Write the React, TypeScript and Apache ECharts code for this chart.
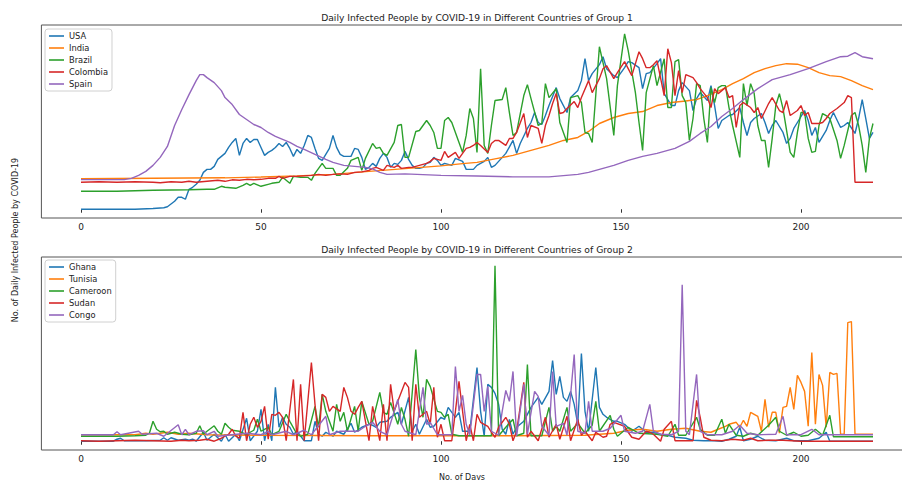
import React, { useEffect, useRef } from "react";
import * as echarts from "echarts";

type Pt = [number, number];

// Group 1 (normalized daily infections, 0 = lowest, 176 = highest)
const usa: Pt[] = [[0,0],[15,0],[20,0.7],[23,1.5],[24,2.5],[26,8],[27,12],[28,12],[29,10],[30,20],[31,22],[32,25],[33,29],[34,37],[35,40],[36,40],[37,43],[38,50],[39,53],[40,56],[41,62],[42,67],[43,71],[44,54],[45,66],[46,71],[47,67],[48,70],[49,70],[50,62],[51,54],[52,57],[53,59],[54,62],[55,66],[56,63],[57,67],[58,61],[59,53],[60,60],[61,56],[62,64],[63,74],[64,72],[65,61],[66,51],[67,49],[68,55],[69,61],[70,74],[71,62],[72,55],[73,53],[74,53],[75,53],[76,61],[77,60],[78,52],[79,40],[80,42],[81,46],[82,43],[83,51],[84,56],[85,52],[86,42],[87,46],[88,45],[89,49],[90,58],[91,50],[92,44],[93,41],[94,41],[95,42],[96,46],[97,47],[98,52],[99,49],[100,44],[101,46],[103,44],[104,51],[106,48],[107,40],[109,40],[110,44],[112,48],[113,52],[114,42],[115,44],[117,52],[118,56],[120,69],[121,56],[122,66],[124,81],[125,87],[126,97],[127,87],[128,85],[129,94],[130,104],[132,122],[133,111],[135,97],[136,112],[138,119],[139,129],[140,151],[141,129],[142,136],[144,145],[145,153],[146,141],[148,134],[149,132],[151,142],[152,148],[153,147],[155,142],[156,121],[157,136],[158,137],[160,146],[161,151],[162,116],[164,104],[165,104],[166,119],[167,127],[169,119],[170,99],[171,111],[172,117],[174,109],[175,124],[176,104],[177,81],[178,89],[180,94],[181,95],[183,102],[184,87],[185,74],[186,87],[187,91],[189,96],[190,87],[191,76],[192,84],[193,89],[195,77],[196,66],[197,71],[198,81],[199,87],[201,99],[202,89],[203,74],[204,82],[205,67],[207,79],[208,89],[209,97],[211,82],[212,84],[213,87],[215,76],[216,91],[217,110],[218,91],[219,71],[220,77]];
const india: Pt[] = [[0,30.5],[20,31],[40,31.5],[50,32.3],[60,33.5],[70,35],[80,38],[90,40.7],[100,43.5],[106,45.7],[110,47],[115,50.5],[120,54],[125,59],[130,64],[134,69],[138,72],[141,78],[144,86],[148,92],[152,96],[156,98],[160,104],[164,107],[168,108.5],[171,110],[174,114],[178,120],[181,126],[184,131],[187,137],[190,141],[193,144],[196,146],[199,145.5],[202,142],[205,137],[208,134],[211,133],[214,129],[217,124],[220,120]];
const brazil: Pt[] = [[0,18],[10,18],[20,19],[30,19.5],[35,20],[37,20],[39,23],[40,22],[43,21],[45,24],[46,26],[47,24],[48,26],[50,23],[52,25],[53,26],[55,27],[56,32],[58,26],[59,33],[61,32],[63,32],[64,29],[65,36],[67,46],[68,41],[70,41],[71,34],[72,34],[74,41],[75,49],[77,52],[78,39],[79,51],[81,66],[82,61],[83,62],[84,56],[85,54],[87,67],[88,84],[89,85],[90,52],[91,52],[93,78],[94,79],[95,84],[96,89],[97,84],[98,77],[99,61],[100,61],[101,89],[102,92],[103,87],[105,67],[106,57],[107,74],[108,101],[109,91],[110,57],[111,141],[112,64],[113,56],[114,84],[115,109],[117,110],[118,122],[119,97],[120,74],[121,77],[123,114],[124,125],[125,111],[127,84],[128,86],[129,126],[130,112],[132,121],[133,87],[135,67],[136,112],[138,114],[139,107],[140,77],[141,76],[142,67],[144,163],[145,147],[146,131],[148,74],[149,124],[151,176],[152,159],[154,117],[155,87],[156,59],[157,117],[159,144],[160,124],[162,151],[163,102],[164,102],[165,148],[166,150],[167,114],[168,107],[169,69],[170,91],[171,126],[172,124],[173,91],[174,67],[175,122],[176,107],[177,122],[178,124],[179,124],[180,102],[181,84],[183,52],[184,126],[185,104],[186,126],[187,116],[188,84],[189,69],[190,69],[191,42],[192,71],[193,104],[194,116],[195,101],[197,57],[198,52],[199,77],[200,97],[201,97],[202,71],[203,57],[204,58],[205,84],[206,96],[207,94],[208,91],[210,69],[211,51],[212,64],[214,94],[215,97],[216,84],[217,64],[218,37],[219,71],[220,86]];
const colombia: Pt[] = [[0,27],[5,27.5],[10,27],[15,27.5],[20,27],[22,26.5],[25,27.5],[28,27],[30,28],[32,27],[35,28],[38,29],[40,28],[42,29.5],[44,29],[46,30],[48,29.5],[50,30],[52,31],[54,31],[55,33],[56,31],[58,33],[60,33],[62,33.5],[64,34],[66,35],[68,34],[70,35],[72,35.5],[74,35],[76,37],[78,37.5],[80,39],[81,41],[82,42],[84,39],[85,44],[87,42],[88,44],[89,41],[91,42],[92,42],[94,44],[96,46],[97,48],[98,51],[100,49],[101,58],[102,52],[104,57],[105,51],[107,61],[108,62],[109,64],[110,67],[111,64],[113,57],[114,66],[115,69],[116,69],[118,64],[119,71],[120,71],[121,77],[123,96],[124,72],[125,84],[127,81],[128,66],[129,84],[130,94],[131,106],[132,116],[133,96],[134,97],[135,101],[137,108],[138,102],[139,112],[141,129],[142,117],[144,131],[145,141],[146,144],[148,131],[149,137],[151,148],[152,141],[153,134],[155,158],[156,151],[157,142],[158,142],[159,145],[160,149],[162,114],[163,161],[164,147],[165,114],[166,139],[167,117],[168,135],[170,132],[171,127],[172,121],[174,112],[175,102],[176,121],[177,116],[179,122],[180,112],[181,114],[182,82],[183,104],[184,107],[186,102],[187,97],[188,102],[189,91],[191,106],[192,112],[194,99],[195,97],[196,109],[197,94],[199,99],[200,104],[201,94],[202,97],[203,86],[205,86],[206,87],[207,91],[208,96],[210,101],[212,107],[213,114],[214,112],[215,27],[220,27]];
const spain: Pt[] = [[0,29.7],[12,29.7],[14,31],[16,34],[18,38],[20,44],[22,52],[24,63],[26,84],[28,100],[30,115],[32,129],[33,135],[34,135],[35,132],[37,127],[39,119],[40,112],[42,105],[44,95],[46,90],[48,85],[50,82],[52,77],[54,73],[56,70],[58,67],[60,63],[62,60],[65,55],[68,50],[70,47],[73,44],[76,43],[79,42],[81,40.5],[83,37],[85,35],[90,35.5],[100,34],[110,33.3],[120,32.5],[130,32.5],[138,35],[141,37],[144,40],[148,44],[152,49],[156,53],[160,56],[165,61],[169,68],[172,76],[175,83],[178,93],[181,101],[184,110],[188,121],[192,130],[197,135],[202,141],[207,148],[211,153],[213,153.5],[215,157],[217,153],[220,151]];

// Group 2
const ghana: Pt[] = [[0,0],[9,0],[10,2],[11,3],[12,0.5],[18,0.5],[22,1],[23,3.5],[24,1],[25,3.5],[27,1],[29,2],[30,1],[31,2],[32,0],[34,9],[35,1],[37,7],[39,0],[40,7],[41,0],[43,7],[44,0.5],[46,23],[47,0.5],[49,10],[50,32],[51,0.5],[52,17],[53,0.5],[54,54],[55,14],[56,24],[57,17],[58,14],[59,7],[60,10],[62,0.5],[64,0.5],[65,20],[66,7],[67,5],[68,9],[70,5],[71,10],[73,7],[75,18],[76,9],[78,14],[80,17],[81,16],[82,14],[83,19],[85,20],[86,24],[88,29],[89,17],[91,44],[92,10],[93,17],[94,7],[96,22],[97,14],[98,15],[100,24],[101,22],[102,34],[104,24],[105,29],[106,10],[108,10],[110,74],[111,30],[112,5],[113,57],[114,54],[115,48],[116,37],[117,12],[118,7],[119,22],[120,7],[121,14],[123,20],[124,27],[125,34],[127,44],[128,37],[130,50],[131,81],[132,47],[133,65],[134,44],[135,40],[136,50],[137,37],[138,17],[139,88],[140,30],[141,10],[143,74],[144,34],[145,27],[146,24],[148,20],[149,20],[151,17],[153,10],[155,15],[157,9],[159,9],[161,7],[163,6],[165,4],[168,3],[170,1],[173,0.5],[176,0.5],[178,0],[180,2],[182,5],[183,14],[184,0.5],[186,2],[188,5],[190,1],[193,0.5],[196,3],[198,0.5],[202,0.5],[205,3],[207,9],[208,0],[220,0]];
const tunisia: Pt[] = [[0,6.5],[15,6.5],[18,8],[20,7],[24,9],[27,7],[30,8],[35,6.5],[50,6],[80,5.5],[100,5.5],[120,5.5],[140,6],[148,8],[152,11],[156,12],[160,10],[164,12],[168,13],[172,10],[175,9],[177,12],[179,15],[180,17],[182,19],[183,14],[184,21],[185,15],[186,29],[188,25],[189,10],[190,42],[191,14],[192,29],[193,29],[194,8],[195,34],[196,35],[197,54],[198,32],[199,66],[200,59],[201,50],[202,15],[203,89],[204,17],[205,67],[206,56],[207,14],[208,69],[209,67],[210,68],[211,7],[212,7],[213,119],[214,120],[215,7],[220,7]];
const cameroon: Pt[] = [[0,5],[10,5],[15,5.5],[18,6],[19,8],[20,20],[21,12],[22,9.5],[23,10],[24,7],[26,9],[28,7],[30,6.5],[32,8],[33,15.5],[34,7],[35,10],[37,15.5],[38,10],[39,7],[40,18],[41,14],[42,11],[44,10],[46,6.5],[47,9],[48,11],[49,22],[50,10],[52,14],[53,6.5],[55,10],[57,27],[58,20],[60,7],[61,5],[63,7],[65,35],[66,14],[67,47],[68,30],[70,10],[71,37],[72,20],[73,29],[74,10],[76,35],[77,10],[78,40],[80,17],[81,20],[83,49],[84,29],[85,27],[86,39],[88,17],[89,34],[90,22],[91,5],[93,92],[94,44],[95,24],[96,62],[97,55],[99,30],[100,29],[101,24],[102,27],[103,7],[105,5.5],[110,5.5],[114,5.5],[115,176],[116,5.5],[118,14],[120,22],[121,5.5],[123,8],[124,77],[125,5.5],[128,5.5],[130,34],[131,10],[132,15],[133,10],[135,34],[136,10],[138,18],[140,8],[142,16],[143,40],[144,10],[147,26],[148,12],[149,5],[152,14],[155,8],[160,7],[163,5],[165,17],[166,6],[168,6],[171,24],[172,12],[174,6],[176,6],[178,22],[179,8],[180,17],[182,6],[184,5],[186,8],[188,6],[191,16],[193,24],[194,10],[196,6],[198,9],[200,5],[202,6],[204,12],[206,6],[208,26],[209,4.5],[220,4.5]];
const sudan: Pt[] = [[0,0.5],[5,0],[10,0.5],[15,1],[20,0.5],[25,0],[28,1],[30,0.5],[33,1],[35,2],[37,0],[39,3],[41,7],[42,12],[43,5],[44,3],[45,29],[46,0.5],[47,17],[48,24],[49,14],[50,20],[51,35],[52,2],[53,27],[54,26],[55,29],[56,24],[57,0.5],[59,62],[60,0.5],[61,57],[62,0.5],[64,79],[65,37],[66,0.5],[67,47],[68,44],[69,30],[70,35],[72,30],[73,54],[74,44],[75,30],[76,27],[77,34],[78,40],[80,0.5],[81,35],[83,0.5],[84,37],[85,0.5],[86,57],[87,30],[88,40],[90,59],[91,54],[92,0.5],[93,57],[94,24],[96,30],[97,17],[98,54],[99,4],[100,17],[101,0.5],[103,0.5],[104,30],[105,60],[106,30],[107,0.5],[108,17],[109,0.5],[110,27],[111,19],[113,15],[114,9],[115,4],[116,14],[118,24],[119,17],[120,0.5],[121,10],[123,59],[124,4],[125,10],[127,0.5],[129,24],[130,4],[132,17],[133,2],[135,25],[136,0.5],[138,22],[139,6],[140,10],[142,0.5],[143,9],[145,4],[146,5],[147,17],[148,19],[151,15],[152,9],[153,4],[155,2],[157,10],[158,9],[159,7],[161,0],[162,12],[164,20],[165,0.5],[167,0.5],[170,0.5],[171,41],[172,24],[173,4],[175,1],[178,0.5],[181,2],[184,1],[186,3],[188,0.5],[191,1],[195,1],[200,0],[220,0]];
const congo: Pt[] = [[0,6.5],[9,6.5],[10,9.5],[11,6.5],[16,10],[17,7],[21,8],[23,5],[27,16.5],[28,6.5],[29,12],[30,6.5],[32,10],[34,10.5],[35,6.5],[37,10],[38,5],[42,6.5],[46,8],[50,6.5],[52,10],[53,6.5],[57,10],[59,6.5],[62,11],[64,6.5],[68,25],[69,6.5],[72,10],[77,10],[79,15],[81,19],[83,10],[85,6.5],[88,42],[89,17],[90,10],[93,6.5],[95,54],[96,17],[97,19],[99,6.5],[103,6.5],[104,75],[105,30],[106,46],[107,17],[108,6.5],[110,67],[111,67],[112,30],[113,55],[114,10],[116,6],[117,30],[118,51],[119,40],[120,70],[121,5],[123,57],[124,7],[126,50],[127,45],[128,15],[130,6],[131,70],[132,15],[134,18],[135,6],[137,87],[138,10],[140,8],[141,40],[142,10],[145,10],[147,13],[150,26],[151,10],[154,8],[156,10],[158,37],[159,10],[161,7],[164,6.5],[166,10],[167,157],[168,10],[169,6.5],[171,67],[172,10],[174,6.5],[178,6.5],[181,10],[183,16],[185,8],[188,6.5],[193,7],[195,25],[196,6.5],[200,6.5],[203,12],[205,6.5],[220,6.5]];

const group1Names = ["USA", "India", "Brazil", "Colombia", "Spain"];
const group1Data = [usa, india, brazil, colombia, spain];
const group2Names = ["Ghana", "Tunisia", "Cameroon", "Sudan", "Congo"];
const group2Data = [ghana, tunisia, cameroon, sudan, congo];
const xTicks = [0, 50, 100, 150, 200];
const titles = [
  "Daily Infected People by COVID-19 in Different Countries of Group 1",
  "Daily Infected People by COVID-19 in Different Countries of Group 2",
];
const yLabel = "No. of Daily Infected People by COVID-19";
const xLabel = "No. of Days";

const COLORS = ["#1f77b4", "#ff7f0e", "#2ca02c", "#d62728", "#9467bd"];
const FONT = "DejaVu Sans";

export default function App() {
  const ref = useRef<HTMLDivElement>(null);
  useEffect(() => {
    if (!ref.current) return;
    const chart = echarts.init(ref.current, null, { renderer: "svg" });
    const gridTops = [25, 257];
    const xAxis = [0, 1].map((i) => ({
      type: "value",
      gridIndex: i,
      min: -11,
      max: 231,
      axisLine: { show: false },
      axisTick: {
        show: true,
        length: 3.5,
        customValues: xTicks,
        lineStyle: { color: "#333", width: 1 },
      },
      axisLabel: {
        show: true,
        customValues: xTicks,
        margin: 4,
        fontSize: 9,
        color: "#222",
        fontFamily: FONT,
      },
      splitLine: { show: false },
    }));
    const yAxis = [0, 1].map((i) => ({
      type: "value",
      gridIndex: i,
      min: -8.8,
      max: 184.8,
      axisLine: { show: false },
      axisTick: { show: false },
      axisLabel: { show: false },
      splitLine: { show: false },
    }));
    const mkSeries = (names: string[], datas: Pt[][], idx: number) =>
      names.map((n, k) => ({
        type: "line",
        name: n,
        xAxisIndex: idx,
        yAxisIndex: idx,
        data: datas[k],
        symbol: "none",
        color: COLORS[k],
        lineStyle: { width: 1.4, color: COLORS[k] },
        emphasis: { disabled: true },
      }));
    const legendBase = {
      orient: "vertical",
      left: 45,
      icon: "rect",
      itemWidth: 15,
      itemHeight: 1.6,
      itemGap: 2,
      padding: [2, 4, 2, 4],
      backgroundColor: "rgba(255,255,255,0.85)",
      borderColor: "#d0d0d0",
      borderWidth: 1,
      borderRadius: 3,
      selectedMode: false,
      textStyle: { fontSize: 8.3, color: "#222", fontFamily: FONT, lineHeight: 10 },
    };
    chart.setOption({
      animation: false,
      backgroundColor: "#fff",
      textStyle: { fontFamily: FONT },
      grid: gridTops.map((t) => ({
        left: 41.4,
        width: 871.2,
        top: t,
        height: 193,
        show: true,
        borderColor: "#555",
        borderWidth: 1,
        backgroundColor: "transparent",
      })),
      xAxis,
      yAxis,
      legend: [
        { ...legendBase, top: 29, data: group1Names },
        { ...legendBase, top: 260, data: group2Names },
      ],
      series: [
        ...mkSeries(group1Names, group1Data, 0),
        ...mkSeries(group2Names, group2Data, 1),
      ],
      graphic: [
        {
          type: "text",
          x: 477,
          y: 17,
          style: { text: titles[0], fontSize: 9.2, fill: "#222", align: "center", verticalAlign: "middle", fontFamily: FONT },
        },
        {
          type: "text",
          x: 477,
          y: 249,
          style: { text: titles[1], fontSize: 9.2, fill: "#222", align: "center", verticalAlign: "middle", fontFamily: FONT },
        },
        {
          type: "text",
          x: 15,
          y: 240,
          rotation: Math.PI / 2,
          style: { text: yLabel, fontSize: 8, fill: "#222", align: "center", verticalAlign: "middle", fontFamily: FONT },
        },
        {
          type: "text",
          x: 462,
          y: 477,
          style: { text: xLabel, fontSize: 8, fill: "#222", align: "center", verticalAlign: "middle", fontFamily: FONT },
        },
      ],
    });
    return () => chart.dispose();
  }, []);
  return (
    <div
      ref={ref}
      style={{ position: "fixed", left: 0, top: 0, width: 920, height: 480, background: "#fff" }}
    />
  );
}
